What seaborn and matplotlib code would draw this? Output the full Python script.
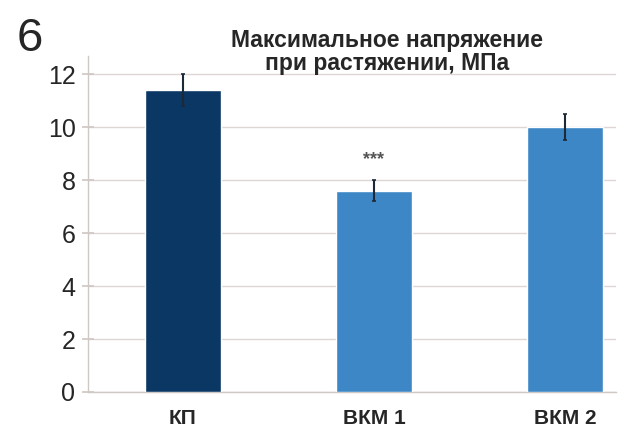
import matplotlib
matplotlib.use("Agg")
import matplotlib.pyplot as plt
import seaborn as sns
import pandas as pd

categories = ["КП", "ВКМ 1", "ВКМ 2"]
values = [11.4, 7.6, 10.0]
errors = [0.6, 0.4, 0.5]
colors = ["#0b3764", "#3e87c6", "#3e87c6"]
significance = ["", "***", ""]
yticks = [0, 2, 4, 6, 8, 10, 12]

df = pd.DataFrame({"cat": categories, "val": values, "err": errors})

sns.set_theme(style="white")
plt.rcParams["font.family"] = ["Liberation Sans", "DejaVu Sans"]

fig = plt.figure(figsize=(6.4, 4.33), dpi=100)
ax = fig.add_axes([0.1375, 0.0947, 0.825, 0.777])

sns.barplot(data=df, x="cat", y="val", hue="cat", palette=colors, saturation=1,
            width=0.4, legend=False, ax=ax, errorbar=None, zorder=3)
ax.errorbar(range(len(categories)), df["val"], yerr=df["err"], fmt="none",
            ecolor="#1c2a38", elinewidth=1.5, capsize=1.5, capthick=1.2, zorder=4)
for i, (v, e, s) in enumerate(zip(values, errors, significance)):
    if s:
        ax.text(i, v + e + 0.45, s, ha="center", va="bottom", fontsize=13,
                color="#555555", fontweight="bold")

ax.set_xlim(-0.497, 2.267)
ax.set_ylim(0, 12.7)
ax.set_yticks(yticks)
ax.set_yticklabels([str(t) for t in yticks], fontsize=18)
ax.set_xticks(range(len(categories)))
ax.set_xticklabels(categories, fontsize=15, fontweight="bold")
ax.set_xlabel("")
ax.set_ylabel("")
ax.yaxis.grid(True, color="#ddd6d2", linewidth=1.0, zorder=0)
ax.set_axisbelow(True)
for side in ["top", "right"]:
    ax.spines[side].set_visible(False)
for side in ["left", "bottom"]:
    ax.spines[side].set_color("#d0c8c4")
    ax.spines[side].set_linewidth(1.0)
ax.tick_params(axis="y", which="both", left=True, direction="inout", length=8,
               color="#d0c8c4", pad=5)
ax.tick_params(axis="x", bottom=False, pad=6)

fig.text(0.605, 0.88, "Максимальное напряжение\nпри растяжении, МПа", ha="center",
         va="center", fontsize=16.5, fontweight="bold", linespacing=0.95)
fig.text(0.026, 0.91, "6", fontsize=34, ha="left", va="center")

fig.savefig("out.png", dpi=100)
